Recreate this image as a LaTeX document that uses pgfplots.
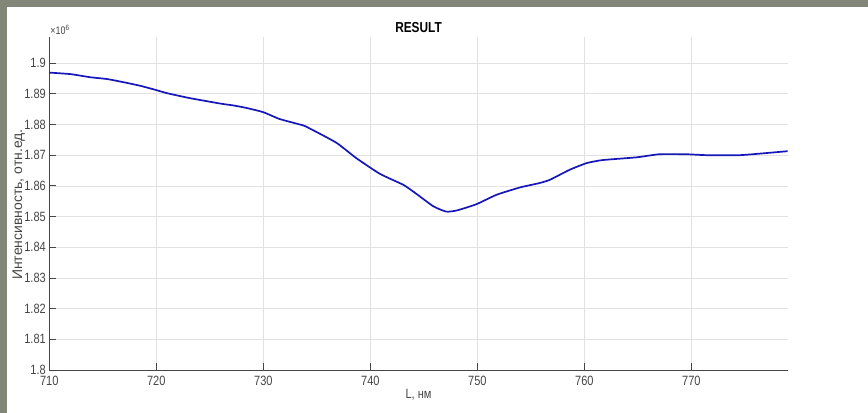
\documentclass[border=0pt]{standalone}
\usepackage{fontspec}
\usepackage{pgfplots}
\pgfplotsset{compat=1.18}
\setmainfont{Liberation Sans}
\newfontfamily\narrowfont{Liberation Sans}[FakeStretch=0.82]
\definecolor{framegray}{RGB}{130,134,120}
\definecolor{curveblue}{RGB}{22,22,185}
\definecolor{gridgray}{RGB}{226,226,226}
\definecolor{axgray}{RGB}{70,70,70}
\begin{document}
\begin{tikzpicture}
\fill[framegray] (0,0) rectangle (868bp,413bp);
\fill[white] (7bp,0) rectangle (868bp,406bp);
\begin{axis}[
  at={(49.3bp,43bp)}, anchor=south west,
  scale only axis, width=738.4bp, height=333bp,
  xmin=710, xmax=779, ymin=1800000, ymax=1908500,
  xtick={710,720,...,770},
  ytick={1800000,1810000,...,1900000},
  scaled y ticks=base 10:-6,
  ytick scale label code/.code={×10\textsuperscript{#1}},
  every y tick scale label/.style={at={(rel axis cs:0,1)}, anchor=south west, inner sep=1bp, yshift=1bp, text=axgray, font=\narrowfont\fontsize{11}{12}\selectfont},
  /pgf/number format/assume math mode=true,
  tick label style={font=\narrowfont\fontsize{13.5}{15}\selectfont, text=axgray},
  xticklabel style={yshift=-3bp},
  axis lines=left,
  axis line style={-, draw=axgray, line width=0.8bp},
  tick style={draw=axgray, line width=0.8bp},
  major tick length=7bp,
  tick align=inside,
  grid=major,
  major grid style={draw=gridgray, line width=0.7bp},
  title={RESULT},
  title style={font=\narrowfont\bfseries\fontsize{14.5}{16}\selectfont, at={(axis description cs:0.5,1)}, anchor=center, yshift=3bp},
  xlabel={L, нм},
  xlabel style={font=\narrowfont\fontsize{13.5}{15}\selectfont, text=axgray, at={(axis description cs:0.5,0)}, anchor=center, yshift=-25bp},
  ylabel={Интенсивность, отн.ед.},
  ylabel style={font=\fontsize{14}{16}\selectfont, text=axgray, at={(axis description cs:-0.0414,0.51)}, anchor=center, rotate=0, xshift=-4.5bp},
]
\addplot[curveblue, line width=1.7bp, line join=round, smooth, tension=0.3] coordinates {
(710.0,1896900) (712.0,1896400) (713.8,1895400) (715.4,1894800) (716.9,1893800)
(718.5,1892600) (719.9,1891300) (721.0,1890200) (723.1,1888600) (726.0,1886800)
(727.2,1886200) (728.4,1885400) (730.0,1884000) (731.5,1881800) (733.4,1880000)
(734.0,1879300) (736.8,1874100) (738.7,1869000) (740.9,1863900) (743.1,1860300)
(744.3,1857400) (745.9,1853300) (747.1,1851600) (748.1,1852000) (749.9,1854000)
(751.8,1857100) (754.0,1859500) (755.8,1860900) (756.8,1862000) (758.6,1865200)
(760.2,1867400) (761.7,1868400) (764.9,1869300) (767.0,1870300) (769.5,1870300)
(771.4,1870000) (774.5,1870000) (776.4,1870500) (779.0,1871300)
};
\end{axis}
\pgfresetboundingbox
\path[use as bounding box] (0,0) rectangle (868bp,413bp);
\end{tikzpicture}
\end{document}
